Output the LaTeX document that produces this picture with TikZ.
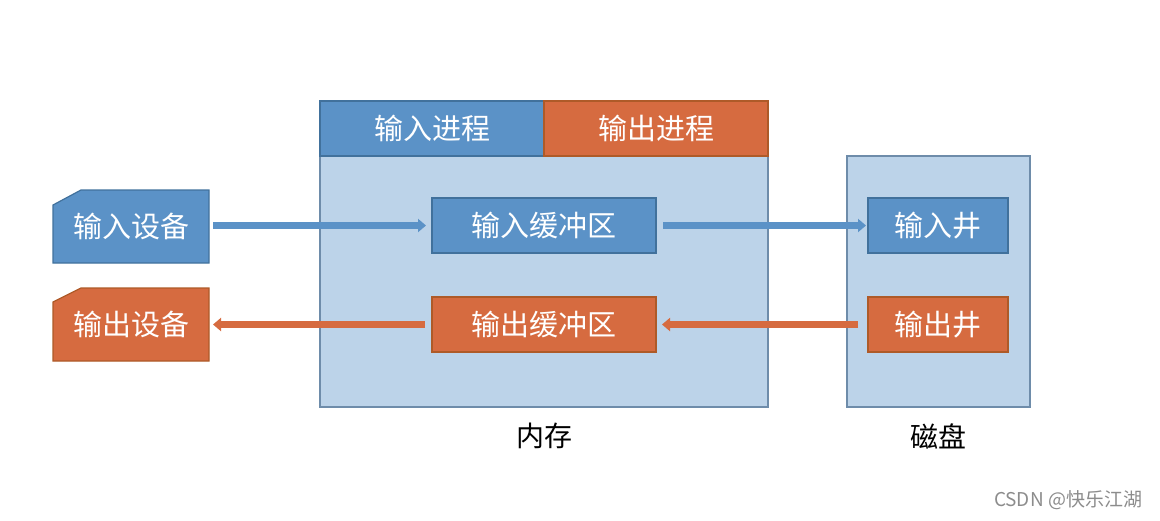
\documentclass[tikz,border=0pt]{standalone}
\usepackage{fontspec}
\setmainfont{Noto Sans CJK SC}
\usetikzlibrary{arrows.meta,backgrounds}
\definecolor{inblue}{RGB}{91,146,199}
\definecolor{inedge}{RGB}{65,113,156}
\definecolor{outred}{RGB}{214,107,64}
\definecolor{outedge}{RGB}{174,90,40}
\definecolor{memfill}{RGB}{188,211,233}
\definecolor{memedge}{RGB}{110,140,170}
\begin{document}
\begin{tikzpicture}[x=0.5pt,y=-0.5pt,
    box/.style={rectangle, outer sep=0pt, inner sep=0pt, text=white,
      font=\fontsize{14.5}{17}\selectfont},
    inbox/.style={box, fill=inblue, draw=inedge, line width=0.6pt},
    outbox/.style={box, fill=outred, draw=outedge, line width=0.6pt},
    area/.style={rectangle, outer sep=0pt, fill=memfill, draw=memedge, line width=0.6pt},
    inflow/.style={line width=3.3pt, inblue, -{Triangle[width=6.5pt,length=4pt]}},
    outflow/.style={line width=3.3pt, outred, -{Triangle[width=6.5pt,length=4pt]}}]
  \useasboundingbox (0,0) rectangle (1160,520);
  % memory and disk
  \node[area, minimum width=224pt, minimum height=153pt] (mem) at (544,254) {};
  \node[inbox, minimum width=112pt, minimum height=27.5pt] (inproc) at (432,128.5) {输入进程};
  \node[outbox, minimum width=112pt, minimum height=27.5pt] (outproc) at (656,128.5) {输出进程};
  \node[area, minimum width=91.5pt, minimum height=125.5pt] (disk) at (938.5,281.5) {};
  % buffers and wells
  \node[inbox, minimum width=112pt, minimum height=27.5pt] (inbuf) at (544,225.5) {输入缓冲区};
  \node[outbox, minimum width=112pt, minimum height=27.5pt] (outbuf) at (544,324.5) {输出缓冲区};
  \node[inbox, minimum width=70pt, minimum height=27.5pt] (inwell) at (938,225.5) {输入井};
  \node[outbox, minimum width=70pt, minimum height=27.5pt] (outwell) at (938,324.5) {输出井};
  % devices
  \node[box, minimum width=78pt, minimum height=36.5pt] (indev) at (131,226.5) {输入设备};
  \node[box, minimum width=78pt, minimum height=36.5pt] (outdev) at (131,324.5) {输出设备};
  \begin{scope}[on background layer]
    \filldraw[fill=inblue, draw=inedge, line width=0.6pt]
      ([yshift=-7.5pt]indev.north west) -- ([xshift=14pt]indev.north west)
      -- (indev.north east) -- (indev.south east) -- (indev.south west) -- cycle;
    \filldraw[fill=outred, draw=outedge, line width=0.6pt]
      ([yshift=-7pt]outdev.north west) -- ([xshift=14pt]outdev.north west)
      -- (outdev.north east) -- (outdev.south east) -- (outdev.south west) -- cycle;
  \end{scope}
  % flows
  \draw[inflow, shorten <=2pt, shorten >=3pt] (indev.east |- inbuf.west) -- (inbuf.west);
  \draw[inflow, shorten <=3.5pt, shorten >=1pt] (inbuf.east) -- (inwell.west);
  \draw[outflow, shorten <=5pt, shorten >=3pt] (outwell.west) -- (outbuf.east);
  \draw[outflow, shorten <=3.5pt, shorten >=2pt] (outbuf.west) -- (outdev.east);
  % labels
  \node[font=\fontsize{14}{17}\selectfont] (memlabel) at (544,436) {内存};
  \node[font=\fontsize{14}{17}\selectfont] (disklabel) at (938,436) {磁盘};
  \node[font=\fontsize{9.5}{11}\selectfont, text=black!45] (mark) at (1068,500) {CSDN @快乐江湖};
\end{tikzpicture}
\end{document}
